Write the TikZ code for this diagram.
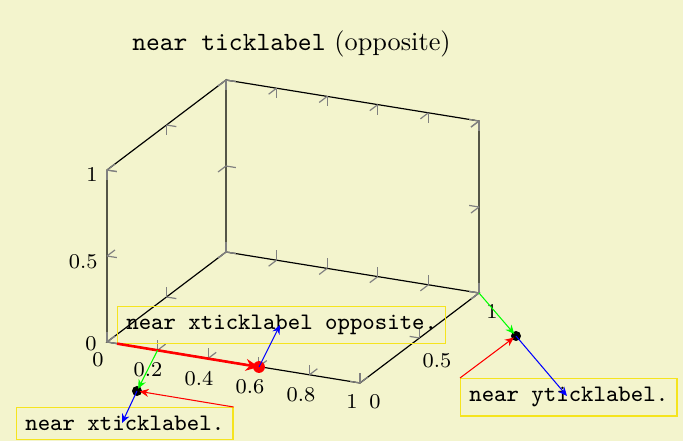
\documentclass[tikz,border=0pt]{standalone}
\usetikzlibrary{arrows.meta}
\definecolor{bg}{RGB}{243,244,205}
\definecolor{boxyellow}{RGB}{245,228,30}
\begin{document}
\begin{tikzpicture}[x=0.3802pt,y=-0.3802pt,
  axisline/.style={black,line width=0.45pt},
  tickmark/.style={gray,line width=0.45pt},
  ticklab/.style={font=\footnotesize,inner sep=0pt},
  labelbox/.style={draw=boxyellow,font=\small\ttfamily,anchor=north west,line width=0.45pt},
  thinarrow/.style={line width=0.4pt,-{Stealth[length=3.4pt,width=3pt]}},
  dotmark/.style={circle,fill,inner sep=0pt,minimum size=3.8pt}]
\fill[bg] (0,0) rectangle (683,441);
\useasboundingbox (0,0) rectangle (683,441);

\node[font=\normalsize] (title) at (291.5,44) {\texttt{near ticklabel} (opposite)};

\begin{scope}[shift={(107,342)},x={(96.19pt,-15.59pt)},y={(45.24pt,34.22pt)},z={(0pt,65.39pt)}]
  \coordinate (O) at (0,0,0);
  \coordinate (X) at (1,0,0);
  \coordinate (Y) at (0,1,0);
  \coordinate (XY) at (1,1,0);
  \coordinate (Z) at (0,0,1);
  \coordinate (YZ) at (0,1,1);
  \coordinate (XYZ) at (1,1,1);
  \coordinate (xt2) at (0.2,0,0);
  \coordinate (redstart) at (0.04,0,0);
  \draw[axisline] (O) -- (X) -- (XY) -- (Y) -- cycle;
  \draw[axisline] (O) -- (Z) -- (YZ) -- (Y);
  \draw[axisline] (YZ) -- (XYZ) -- (XY);
  % x ticks
  \foreach \t in {0,0.2,0.4,0.6,0.8,1}{
    \draw[tickmark] (\t,0,0) -- ++(0,0,0.058);
    \draw[tickmark] (\t,0,0) -- ++(0,0.067,0);
    \draw[tickmark] (\t,1,0) -- ++(0,0,0.058);
    \draw[tickmark] (\t,1,0) -- ++(0,-0.067,0);
    \draw[tickmark] (\t,1,1) -- ++(0,0,-0.058);
    \draw[tickmark] (\t,1,1) -- ++(0,-0.067,0);
  }
  % y ticks
  \foreach \t in {0,0.5,1}{
    \draw[tickmark] (0,\t,0) -- ++(0.039,0,0);
    \draw[tickmark] (0,\t,0) -- ++(0,0,0.058);
    \draw[tickmark] (0,\t,1) -- ++(0.039,0,0);
    \draw[tickmark] (0,\t,1) -- ++(0,0,-0.058);
    \draw[tickmark] (1,\t,0) -- ++(-0.039,0,0);
    \draw[tickmark] (1,\t,0) -- ++(0,0,0.058);
  }
  % z ticks
  \foreach \t in {0,0.5,1}{
    \draw[tickmark] (0,0,\t) -- ++(0.039,0,0);
    \draw[tickmark] (0,0,\t) -- ++(0,0.067,0);
    \draw[tickmark] (0,1,\t) -- ++(0.039,0,0);
    \draw[tickmark] (0,1,\t) -- ++(0,-0.067,0);
    \draw[tickmark] (1,1,\t) -- ++(-0.039,0,0);
    \draw[tickmark] (1,1,\t) -- ++(0,-0.067,0);
  }
\end{scope}

% tick labels
\node[ticklab] (xl0) at (98,360) {0};
\node[ticklab] (xl2) at (148,370) {0.2};
\node[ticklab] (xl4) at (199,379) {0.4};
\node[ticklab] (xl6) at (250,387) {0.6};
\node[ticklab] (xl8) at (301,395) {0.8};
\node[ticklab] (xl10) at (352,402) {1};
\node[ticklab] (yl0) at (375,402) {0};
\node[ticklab] (yl5) at (437,361) {0.5};
\node[ticklab] (yl10) at (492,312) {1};
\node[ticklab,anchor=east] (zl0) at (97,344) {0};
\node[ticklab,anchor=east] (zl5) at (98,262) {0.5};
\node[ticklab,anchor=east] (zl10) at (98,175) {1};

% label boxes
\node[labelbox] (xo) at (117,306) {near xticklabel opposite.};
\node[labelbox] (xb) at (16,407) {near xticklabel.};
\node[labelbox] (yb) at (460,378) {near yticklabel.};

% dots
\node[dotmark,red,minimum size=4.5pt] (rdot) at (259,367) {};
\node[dotmark,black] (xdot) at (137,391) {};
\node[dotmark,black] (ydot) at (516,336) {};

\coordinate (xoend) at (280,325);
\coordinate (xend) at (122,423);
\coordinate (yend) at (567,396);

% arrows
\draw[red,line width=1pt,-{Stealth[length=5pt,width=4.5pt]}] (redstart) -- (rdot.center);
\draw[thinarrow,blue] (rdot.center) -- (xoend);
\draw[thinarrow,green,shorten >=1pt] (xt2) -- (xdot.center);
\draw[thinarrow,red,shorten >=1pt] (xb.north east) -- (xdot.center);
\draw[thinarrow,blue] (xdot.center) -- (xend);
\draw[thinarrow,green,shorten >=1pt] (XY) -- (ydot.center);
\draw[thinarrow,red,shorten >=1pt] (yb.north west) -- (ydot.center);
\draw[thinarrow,blue] (ydot.center) -- (yend);
\end{tikzpicture}
\end{document}
